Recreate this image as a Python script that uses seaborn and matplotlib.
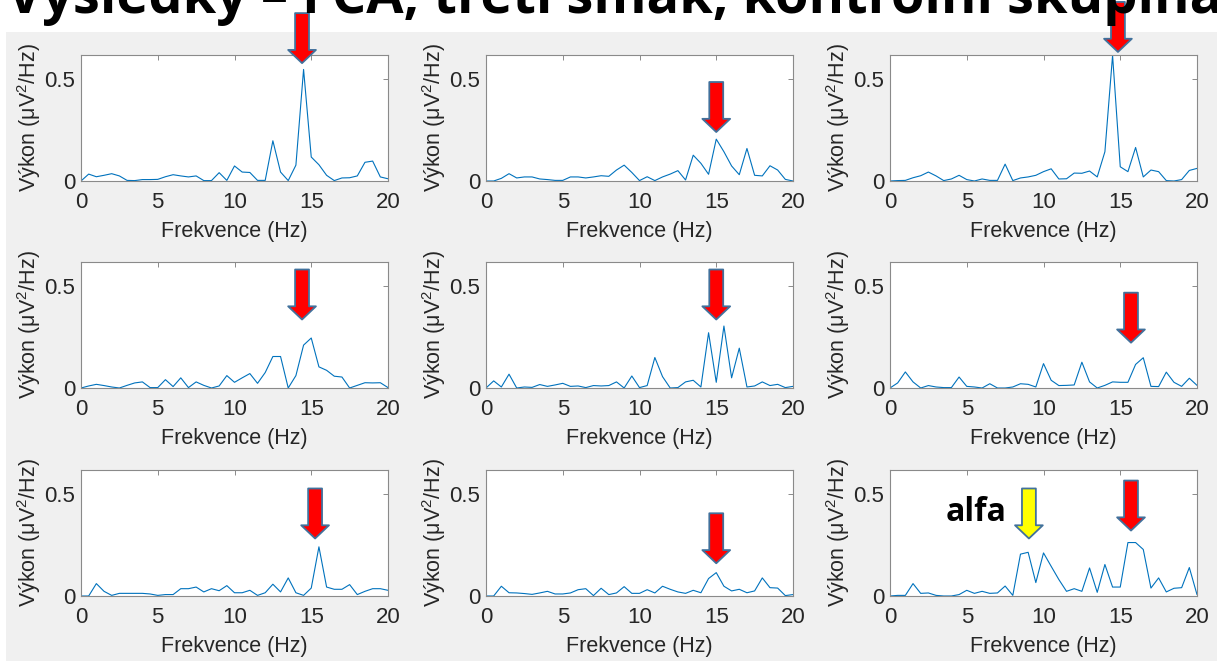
import numpy as np
import pandas as pd
import matplotlib
matplotlib.use("Agg")
import matplotlib.pyplot as plt
from matplotlib.patches import Rectangle
import seaborn as sns

# Frequency bins (Hz)
freq = [0.0, 0.5, 1.0, 1.5, 2.0, 2.5, 3.0, 3.5, 4.0, 4.5, 5.0, 5.5, 6.0, 6.5,
        7.0, 7.5, 8.0, 8.5, 9.0, 9.5, 10.0, 10.5, 11.0, 11.5, 12.0, 12.5, 13.0,
        13.5, 14.0, 14.5, 15.0, 15.5, 16.0, 16.5, 17.0, 17.5, 18.0, 18.5, 19.0,
        19.5, 20.0]

# Power spectra (uV^2/Hz), one per subject
p1 = [0.0, 0.034, 0.021, 0.028, 0.036, 0.025, 0.003, 0.002, 0.007, 0.007, 0.008,
      0.021, 0.031, 0.025, 0.02, 0.025, 0.002, 0.002, 0.041, 0.003, 0.074, 0.044,
      0.042, 0.003, 0.003, 0.198, 0.044, 0.002, 0.078, 0.549, 0.118, 0.08, 0.028,
      0.002, 0.015, 0.016, 0.025, 0.092, 0.098, 0.02, 0.011]
p2 = [0.0, 0.0, 0.013, 0.036, 0.015, 0.02, 0.02, 0.01, 0.007, 0.003, 0.003,
      0.02, 0.02, 0.015, 0.02, 0.026, 0.023, 0.054, 0.078, 0.042, 0.002, 0.021,
      0.002, 0.02, 0.034, 0.051, 0.005, 0.127, 0.087, 0.033, 0.206, 0.144, 0.074,
      0.031, 0.16, 0.028, 0.025, 0.075, 0.054, 0.008, 0.0]
p3 = [0.0, 0.002, 0.003, 0.016, 0.026, 0.044, 0.025, 0.002, 0.01, 0.028, 0.007,
      0.0, 0.01, 0.003, 0.003, 0.083, 0.002, 0.015, 0.02, 0.028, 0.046, 0.06,
      0.01, 0.011, 0.039, 0.038, 0.049, 0.02, 0.144, 0.618, 0.07, 0.046, 0.165,
      0.02, 0.054, 0.046, 0.002, 0.0, 0.007, 0.052, 0.062]
p4 = [0.0, 0.01, 0.018, 0.012, 0.005, 0.0, 0.013, 0.025, 0.03, 0.002, 0.002,
      0.041, 0.007, 0.05, 0.002, 0.03, 0.013, 0.0, 0.01, 0.061, 0.028, 0.05,
      0.071, 0.023, 0.076, 0.155, 0.155, 0.0, 0.061, 0.211, 0.246, 0.104, 0.087,
      0.058, 0.054, 0.0, 0.013, 0.026, 0.025, 0.026, 0.002]
p5 = [0.0, 0.035, 0.005, 0.068, 0.0, 0.005, 0.003, 0.017, 0.008, 0.015, 0.023,
      0.008, 0.01, 0.002, 0.012, 0.01, 0.012, 0.03, 0.0, 0.059, 0.002, 0.012,
      0.15, 0.056, 0.0, 0.002, 0.03, 0.038, 0.005, 0.272, 0.028, 0.305, 0.05,
      0.196, 0.005, 0.01, 0.03, 0.012, 0.018, 0.002, 0.008]
p6 = [0.0, 0.025, 0.079, 0.03, 0.0, 0.012, 0.005, 0.002, 0.002, 0.054, 0.008,
      0.005, 0.0, 0.021, 0.0, 0.0, 0.005, 0.021, 0.018, 0.005, 0.12, 0.038,
      0.012, 0.013, 0.015, 0.127, 0.03, 0.0, 0.013, 0.03, 0.028, 0.028, 0.116,
      0.149, 0.008, 0.007, 0.078, 0.028, 0.008, 0.048, 0.013]
p7 = [0.0, 0.0, 0.061, 0.023, 0.003, 0.013, 0.013, 0.013, 0.013, 0.01, 0.003,
      0.007, 0.007, 0.036, 0.036, 0.044, 0.02, 0.036, 0.026, 0.051, 0.016, 0.016,
      0.028, 0.003, 0.016, 0.058, 0.02, 0.089, 0.016, 0.003, 0.039, 0.242, 0.044,
      0.033, 0.033, 0.056, 0.007, 0.023, 0.036, 0.036, 0.028]
p8 = [0.0, 0.0, 0.048, 0.016, 0.015, 0.012, 0.008, 0.015, 0.023, 0.01, 0.01,
      0.015, 0.031, 0.036, 0.002, 0.038, 0.007, 0.015, 0.046, 0.013, 0.013, 0.031,
      0.015, 0.048, 0.033, 0.02, 0.013, 0.028, 0.016, 0.086, 0.115, 0.048, 0.025,
      0.033, 0.016, 0.025, 0.089, 0.041, 0.039, 0.002, 0.007]
p9 = [0.0, 0.003, 0.003, 0.061, 0.013, 0.015, 0.003, 0.0, 0.0, 0.007, 0.028,
      0.013, 0.023, 0.013, 0.015, 0.049, 0.003, 0.206, 0.215, 0.066, 0.212, 0.146,
      0.081, 0.023, 0.036, 0.023, 0.138, 0.018, 0.155, 0.044, 0.044, 0.263, 0.263,
      0.229, 0.039, 0.089, 0.02, 0.038, 0.041, 0.14, 0.007]
spectra = [p1, p2, p3, p4, p5, p6, p7, p8, p9]

# Marked beta peaks (tip of the red arrow, data coords) per panel
peak_x = [14.4, 15.0, 14.85, 14.4, 15.0, 15.7, 15.25, 15.0, 15.7]
peak_y = [0.58, 0.241, 0.635, 0.337, 0.337, 0.223, 0.283, 0.161, 0.322]
# Marked alpha peak in the last panel
alpha_x, alpha_y = 9.05, 0.283

title = "Výsledky – FCA, třetí smák, kontrolní skupina"
xlab = "Frekvence (Hz)"
ylab = "Výkon (μV$^2$/Hz)"

sns.set_style("white")
plt.rcParams["font.family"] = ["Liberation Sans", "DejaVu Sans"]
plt.rcParams["mathtext.fontset"] = "custom"
plt.rcParams["mathtext.rm"] = "Liberation Sans"
plt.rcParams["mathtext.it"] = "Liberation Sans:italic"
plt.rcParams["mathtext.bf"] = "Liberation Sans:bold"

W, H = 1217, 661
fig = plt.figure(figsize=(W / 100, H / 100), dpi=100, facecolor="white")
fig.patches.append(Rectangle((6 / W, 0), 1, (H - 32) / H, transform=fig.transFigure,
                             fc="#f0f0f0", ec="none", zorder=-10))

fig.text(0.505, 1 - 13 / H, title, ha="center", va="baseline", fontsize=39,
         fontweight="bold", family="Open Sans", color="black")

col_left = [81, 486, 890]
row_bottom = [181, 388, 596]
aw, ah = 307, 126
spine_col = "#8a8a8a"
text_col = "#262626"


def block_arrow(ax, x, y, fill):
    ax.annotate("", xy=(x, y), xycoords="data", xytext=(0, 50),
                textcoords="offset pixels", annotation_clip=False,
                arrowprops=dict(arrowstyle="simple,head_length=0.95,head_width=2.0,tail_width=1.0",
                                mutation_scale=10, shrinkA=0, shrinkB=0,
                                fc=fill, ec="#41719C", lw=1.3),
                zorder=20)


for i, spec in enumerate(spectra):
    r, c = divmod(i, 3)
    ax = fig.add_axes([col_left[c] / W, (H - row_bottom[r]) / H, aw / W, ah / H])
    ax.set_facecolor("white")
    df = pd.DataFrame({"f": freq, "p": spec})
    sns.lineplot(data=df, x="f", y="p", ax=ax, color="#0072BD", lw=0.8)
    ax.set_xlim(0, 20)
    ax.set_ylim(0, 0.62)
    ax.set_xticks([0, 5, 10, 15, 20])
    ax.set_yticks([0, 0.5])
    ax.set_yticklabels(["0", "0.5"])
    ax.tick_params(direction="in", top=True, right=True, length=3.5, width=0.7,
                   color=spine_col, labelsize=16, labelcolor=text_col)
    ax.tick_params(axis="x", pad=8)
    ax.tick_params(axis="y", pad=4)
    for s in ax.spines.values():
        s.set_visible(True)
        s.set_color(spine_col)
        s.set_linewidth(0.8)
    ax.set_xlabel(xlab, fontsize=15.5, color=text_col)
    ax.set_ylabel(ylab, fontsize=15.5, color=text_col)
    ax.xaxis.set_label_coords(0.5, -0.32)
    ax.yaxis.set_label_coords(-0.125, 0.5)
    block_arrow(ax, peak_x[i], peak_y[i], "#FF0000")
    if i == 8:
        block_arrow(ax, alpha_x, alpha_y, "#FFFF00")
        ax.text(3.65, 0.371, "alfa", fontsize=23, fontweight="bold",
                family="Open Sans", color="black", ha="left", va="baseline")

fig.savefig("out.png", dpi=100, facecolor="white")
